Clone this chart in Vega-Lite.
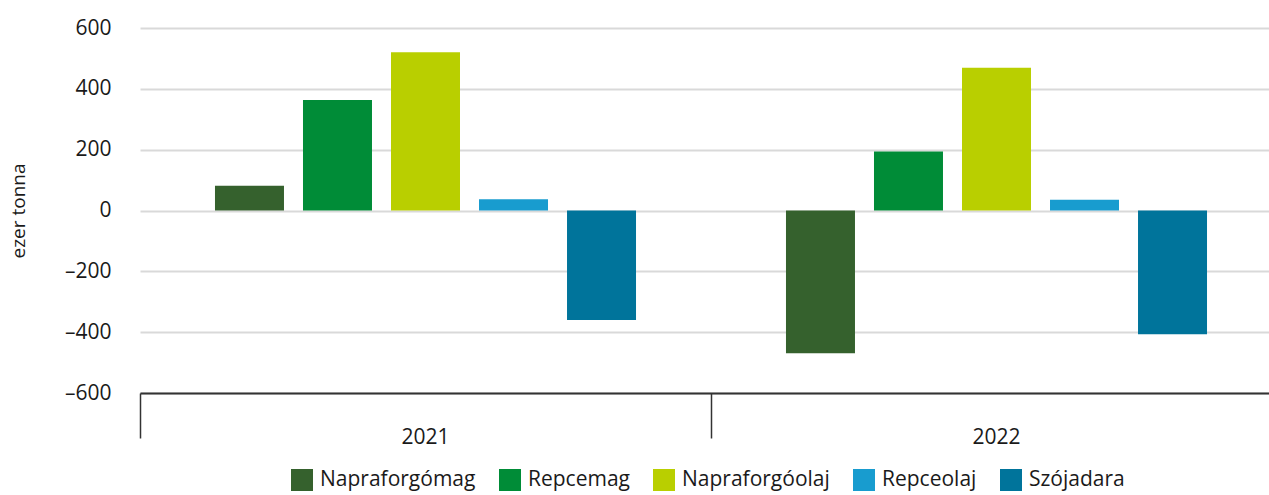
{
  "$schema": "https://vega.github.io/schema/vega-lite/v6.json",
  "width": 1142,
  "height": 365,
  "autosize": {"type": "none"},
  "padding": {"left": 140, "top": 28, "right": 0, "bottom": 102},
  "background": "white",
  "config": {
    "font": "Open Sans",
    "view": {"stroke": null}
  },
  "data": {
    "values": [
      {"year": "2021", "product": "Napraforgómag", "value": 81},
      {"year": "2021", "product": "Repcemag", "value": 363},
      {"year": "2021", "product": "Napraforgóolaj", "value": 520},
      {"year": "2021", "product": "Repceolaj", "value": 37},
      {"year": "2021", "product": "Szójadara", "value": -360},
      {"year": "2022", "product": "Napraforgómag", "value": -469},
      {"year": "2022", "product": "Repcemag", "value": 194},
      {"year": "2022", "product": "Napraforgóolaj", "value": 469},
      {"year": "2022", "product": "Repceolaj", "value": 35},
      {"year": "2022", "product": "Szójadara", "value": -407}
    ]
  },
  "mark": {"type": "bar"},
  "encoding": {
    "x": {
      "field": "year",
      "type": "nominal",
      "scale": {"paddingInner": 0, "paddingOuter": 0},
      "axis": {
        "title": null,
        "labelAngle": 0,
        "bandPosition": 0,
        "tickSize": 45,
        "tickColor": "#333333",
        "tickWidth": 1.5,
        "domainColor": "#333333",
        "domainWidth": 2,
        "labelFontSize": 21,
        "labelColor": "#1a1a1a",
        "labelPadding": -12,
        "grid": false
      }
    },
    "xOffset": {
      "field": "product",
      "type": "nominal",
      "sort": ["Napraforgómag", "Repcemag", "Napraforgóolaj", "Repceolaj", "Szójadara"],
      "scale": {"paddingInner": 0.216, "paddingOuter": 0.852}
    },
    "y": {
      "field": "value",
      "type": "quantitative",
      "scale": {"domain": [-600, 600], "nice": false},
      "axis": {
        "title": "ezer tonna",
        "titleFontSize": 19,
        "titleFontWeight": "normal",
        "titleColor": "#1a1a1a",
        "titlePadding": 36,
        "values": [-600, -400, -200, 0, 200, 400, 600],
        "labelExpr": "replace(datum.label, '−', '–')",
        "labelFontSize": 21,
        "labelColor": "#1a1a1a",
        "labelPadding": 29,
        "ticks": false,
        "domain": false,
        "gridColor": "#d9d9d9",
        "gridWidth": 2
      }
    },
    "color": {
      "field": "product",
      "type": "nominal",
      "sort": ["Napraforgómag", "Repcemag", "Napraforgóolaj", "Repceolaj", "Szójadara"],
      "scale": {
        "domain": ["Napraforgómag", "Repcemag", "Napraforgóolaj", "Repceolaj", "Szójadara"],
        "range": ["#35612d", "#008c37", "#b9cf00", "#189ccf", "#00749b"]
      },
      "legend": {
        "title": null,
        "orient": "none",
        "legendX": 151,
        "legendY": 441,
        "direction": "horizontal",
        "symbolType": "square",
        "symbolSize": 484,
        "symbolStrokeWidth": 0,
        "labelFontSize": 21,
        "labelColor": "#1a1a1a",
        "labelOffset": 7,
        "columnPadding": 23
      }
    }
  }
}
